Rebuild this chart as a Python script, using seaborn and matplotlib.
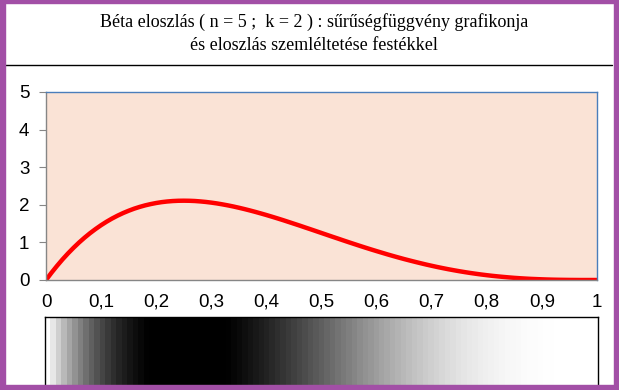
import numpy as np
import pandas as pd
import matplotlib
matplotlib.use("Agg")
import matplotlib.pyplot as plt
from matplotlib.patches import Rectangle
from matplotlib.lines import Line2D
import seaborn as sns

# Density values, x step 0.01
x_vals = [round(i * 0.01, 2) for i in range(101)]
density = [
    0.000, 0.194, 0.376, 0.548, 0.708, 0.857, 0.997, 1.126, 1.246, 1.356,
    1.458, 1.551, 1.636, 1.712, 1.781, 1.842, 1.897, 1.944, 1.985, 2.019,
    2.048, 2.071, 2.088, 2.100, 2.107, 2.109, 2.107, 2.101, 2.090, 2.076,
    2.058, 2.037, 2.012, 1.985, 1.955, 1.922, 1.887, 1.850, 1.811, 1.770,
    1.728, 1.684, 1.639, 1.593, 1.545, 1.497, 1.449, 1.399, 1.350, 1.300,
    1.250, 1.200, 1.150, 1.101, 1.051, 1.002, 0.954, 0.906, 0.859, 0.813,
    0.768, 0.724, 0.680, 0.638, 0.597, 0.557, 0.519, 0.482, 0.446, 0.411,
    0.378, 0.346, 0.316, 0.287, 0.260, 0.234, 0.210, 0.187, 0.166, 0.146,
    0.128, 0.111, 0.096, 0.082, 0.069, 0.057, 0.047, 0.038, 0.030, 0.024,
    0.018, 0.013, 0.009, 0.006, 0.004, 0.002, 0.001, 0.000, 0.000, 0.000,
    0.000,
]

y_ticks = [0, 1, 2, 3, 4, 5]
x_ticks = [0, 0.1, 0.2, 0.3, 0.4, 0.5, 0.6, 0.7, 0.8, 0.9, 1]
x_tick_labels = ["0", "0,1", "0,2", "0,3", "0,4", "0,5", "0,6", "0,7", "0,8", "0,9", "1"]

title_line1 = "Béta eloszlás ( n = 5 ;  k = 2 ) : sűrűségfüggvény grafikonja"
title_line2 = "és eloszlás szemléltetése festékkel"

sns.set_style("white")
plt.rcParams['font.family'] = ['Liberation Sans', 'DejaVu Sans']

W, H = 619, 390
fig = plt.figure(figsize=(W / 100, H / 100), dpi=100)
fig.patch.set_facecolor("white")

def fx(px):
    return px / W

def fy(py):
    return 1 - py / H

# Title
fig.text(fx(314), fy(22), title_line1, ha="center", va="center",
         fontsize=13, family="Liberation Serif", color="black")
fig.text(fx(314), fy(45), title_line2, ha="center", va="center",
         fontsize=13, family="Liberation Serif", color="black")
fig.add_artist(Line2D([fx(3), fx(612)], [fy(65), fy(65)], color="black", lw=1))

# Density chart
ax = fig.add_axes([fx(46), fy(280), fx(597) - fx(46), fy(92) - fy(280)])
ax.set_facecolor("#FAE3D6")
df = pd.DataFrame({"x": x_vals, "y": density})
sns.lineplot(data=df, x="x", y="y", ax=ax, color="#FF0000", lw=3.2)
ax.set_xlim(0, 1)
ax.set_ylim(0, 5)
ax.set_yticks(y_ticks)
ax.set_yticklabels([str(t) for t in y_ticks], fontsize=13.5, color="black")
ax.set_xticks(x_ticks)
ax.set_xticklabels(x_tick_labels, fontsize=13.5, color="black")
ax.set_xlabel("")
ax.set_ylabel("")
ax.tick_params(axis="y", which="both", left=True, length=5, color="#868686", pad=7)
ax.tick_params(axis="x", which="both", bottom=False, length=0, pad=10)
for side in ["left", "bottom"]:
    ax.spines[side].set_color("#868686")
    ax.spines[side].set_linewidth(1)
for side in ["top", "right"]:
    ax.spines[side].set_color("#4A7EBB")
    ax.spines[side].set_linewidth(1)
    ax.spines[side].set_visible(True)

# Paint strip
ax2 = fig.add_axes([fx(45), 0, fx(598) - fx(45), fy(317)])
strip = pd.DataFrame([density], columns=x_vals)
sns.heatmap(strip, ax=ax2, cmap="gray_r", vmin=0, vmax=2.0, cbar=False,
            xticklabels=False, yticklabels=False)
for side in ["left", "top", "right"]:
    ax2.spines[side].set_visible(True)
    ax2.spines[side].set_color("black")
    ax2.spines[side].set_linewidth(1)
ax2.set_xlabel("")
ax2.set_ylabel("")

# Purple frame
purple = "#A24FA6"
fig.add_artist(Rectangle((0, 0), fx(5), 1, transform=fig.transFigure, color=purple, zorder=10))
fig.add_artist(Rectangle((fx(614), 0), fx(5), 1, transform=fig.transFigure, color=purple, zorder=10))
fig.add_artist(Rectangle((0, fy(3)), 1, 3 / H, transform=fig.transFigure, color=purple, zorder=10))
fig.add_artist(Rectangle((0, 0), 1, 5 / H, transform=fig.transFigure, color=purple, zorder=10))

fig.savefig("out.png", dpi=100)
